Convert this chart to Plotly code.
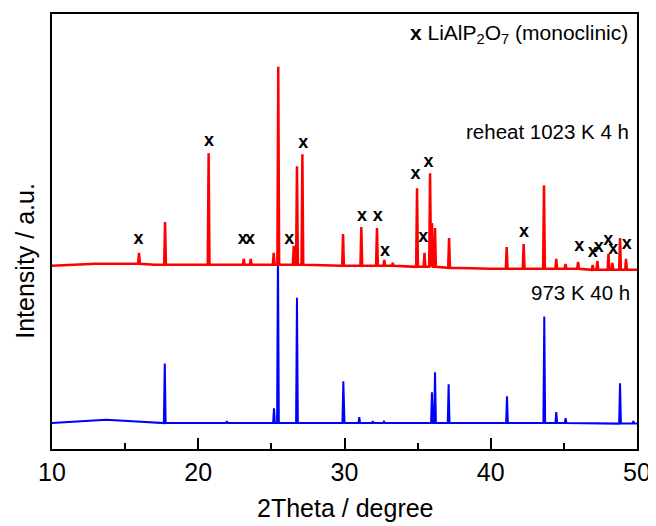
import plotly.graph_objects as go

# ---------------- data (intensity in arbitrary units) ----------------
# red pattern: "reheat 1023 K 4 h"
red_base_x = [10, 11.5, 13, 14.5, 17, 20, 24.5, 30, 34.4, 40, 45, 50]
red_base_y = [184, 185, 186, 186, 185, 185, 185, 184, 183, 181, 181, 180]
red_peak_pos = [15.95, 17.73, 20.71, 23.11, 23.59, 25.16, 25.47, 26.53, 26.75, 27.12,
                29.90, 31.15, 32.22, 32.72, 33.30, 34.96, 35.47, 35.85, 35.98, 36.19,
                37.15, 41.09, 42.25, 43.64, 44.48, 45.11, 45.97, 46.97, 47.29, 48.05,
                48.32, 48.84, 49.25]
red_peak_top = [197, 228, 297, 191, 191, 197, 384, 204, 284, 296,
                216, 223, 222, 190, 187, 262, 197, 277, 227, 222,
                212, 203, 206, 265, 191, 186, 188, 185, 189, 196,
                187, 212, 191]
red_peak_base = [186, 185, 185, 185, 185, 185, 185, 185, 185, 185,
                 184, 184, 184, 184, 184, 183, 183, 183, 183, 183,
                 182, 181, 181, 181, 181, 181, 181, 180, 180, 180,
                 180, 180, 180]

# blue pattern: "973 K 40 h"
blue_base_x = [10, 12, 13.7, 15.5, 17, 20, 30, 40, 50]
blue_base_y = [26, 28, 29.5, 28, 26.5, 26, 26, 26, 25.5]
blue_peak_pos = [17.71, 21.95, 25.18, 25.45, 26.75, 29.92, 31.01, 31.93, 32.70,
                 35.98, 36.19, 37.12, 41.11, 43.66, 44.48, 45.12, 48.84, 49.75]
blue_peak_top = [86, 28, 41, 200, 152, 68, 32, 28, 27.5,
                 57, 77, 65, 53, 133, 37, 31, 66, 28]
blue_peak_base = [26, 26, 26, 26, 26, 26, 26, 26, 26,
                  26, 26, 26, 26, 26, 26, 26, 25.5, 25.5]

# LiAlP2O7 (monoclinic) reflection markers
mark_x = [15.91, 20.74, 23.04, 23.54, 26.23, 27.18, 31.20, 32.27, 32.77, 34.85,
          35.74, 35.38, 42.27, 46.05, 46.97, 47.38, 48.04, 48.38, 49.30]
mark_y = [210.5, 309, 210, 210, 210.7, 306.5, 233.3, 233.3, 198.3, 275.5,
          288.3, 212.3, 217.3, 203, 197.3, 202.3, 209.7, 200.7, 205]

x_ticks = [10, 20, 30, 40, 50]

PEAK_HALF_WIDTH = 0.06  # shape of drawn peaks (degrees)


def build_pattern(bx, by, pos, top, base):
    pts = list(zip(bx, by))
    for p, t, b in zip(pos, top, base):
        pts += [(p - PEAK_HALF_WIDTH, b), (p, t), (p + PEAK_HALF_WIDTH, b)]
    pts.sort(key=lambda q: q[0])
    return [q[0] for q in pts], [q[1] for q in pts]


rx, ry = build_pattern(red_base_x, red_base_y, red_peak_pos, red_peak_top, red_peak_base)
bx, by = build_pattern(blue_base_x, blue_base_y, blue_peak_pos, blue_peak_top, blue_peak_base)

FONT = "Liberation Sans, Arial, sans-serif"

fig = go.Figure()
fig.add_trace(go.Scatter(x=bx, y=by, mode="lines", line=dict(color="#0000ff", width=2),
                         showlegend=False, hoverinfo="skip"))
fig.add_trace(go.Scatter(x=rx, y=ry, mode="lines", line=dict(color="#ff0000", width=2.5),
                         showlegend=False, hoverinfo="skip"))
fig.add_trace(go.Scatter(x=mark_x, y=mark_y, mode="text", text=["x"] * len(mark_x),
                         textposition="middle center",
                         textfont=dict(family=FONT, size=18, color="black", weight="bold"),
                         showlegend=False, hoverinfo="skip"))

# page body has an 8px default margin, so the plot area is placed accordingly
fig.update_layout(
    width=656, height=526,
    margin=dict(l=44, r=27, t=4, b=85),
    paper_bgcolor="white", plot_bgcolor="white",
    font=dict(family=FONT, color="black"),
)
fig.update_xaxes(
    range=[10, 50], tickvals=x_ticks, ticktext=[str(v) for v in x_ticks],
    ticks="inside", ticklen=11, tickwidth=1.5, tickcolor="black",
    minor=dict(ticks="inside", ticklen=6, dtick=5, tickwidth=1.5, tickcolor="black"),
    showline=True, linecolor="black", linewidth=2, mirror=True,
    showgrid=False, zeroline=False,
    tickfont=dict(family=FONT, size=25, color="black"),
)
fig.update_yaxes(
    range=[0, 437], showticklabels=False, ticks="",
    showline=True, linecolor="black", linewidth=2, mirror=True,
    showgrid=False, zeroline=False,
)

annots = [
    dict(text="<b>x</b> LiAlP<sub>2</sub>O<sub>7</sub> (monoclinic)", x=0.988, y=0.954,
         xanchor="right", yanchor="middle", font=dict(size=21)),
    dict(text="reheat 1023 K 4 h", x=0.990, y=0.730, xanchor="right", yanchor="middle",
         font=dict(size=20.5)),
    dict(text="973 K 40 h", x=0.991, y=0.359, xanchor="right", yanchor="middle",
         font=dict(size=20.5)),
    dict(text="2Theta / degree", x=0.501, y=-0.135, xanchor="center", yanchor="middle",
         font=dict(size=25)),
    dict(text="Intensity / a.u.", x=-0.046, y=0.433, xanchor="center", yanchor="middle",
         textangle=-90, font=dict(size=25)),
]
for a in annots:
    a.update(xref="paper", yref="paper", showarrow=False)
    a["font"].update(family=FONT, color="black")
    fig.add_annotation(**a)

fig.write_html("out.html")
